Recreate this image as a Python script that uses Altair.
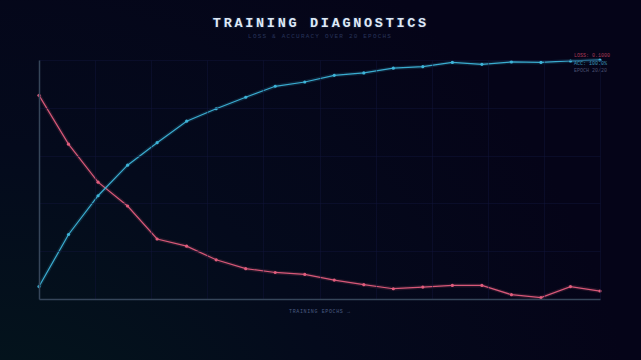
import altair as alt
import pandas as pd

epochs = list(range(1, 21))
accuracy = [52.6, 63.5, 71.6, 78.0, 82.7, 87.2, 89.8, 92.2, 94.5, 95.4,
            96.8, 97.3, 98.3, 98.6, 99.5, 99.1, 99.6, 99.5, 99.8, 100.0]
loss = [2.556, 1.944, 1.467, 1.167, 0.753, 0.663, 0.492, 0.381, 0.333, 0.309,
        0.237, 0.180, 0.129, 0.150, 0.171, 0.171, 0.054, 0.018, 0.156, 0.100]

title_text = "TRAINING DIAGNOSTICS"
subtitle_text = "LOSS & ACCURACY OVER 20 EPOCHS"
x_title = "TRAINING EPOCHS \u2192"
legend_lines = ["LOSS: 0.1000", "ACC: 100.0%", "EPOCH 20/20"]

LOSS_MAX = 3.0
ACC_MIN, ACC_MAX = 50, 100


def spaced(s, sp="\u2009"):
    return sp.join(s)


df = pd.DataFrame({"epoch": epochs, "acc": accuracy, "loss": loss})

W, H = 561, 239
ACC_C = "#3db3d8"
LOSS_C = "#e05c7c"
MONO = "Liberation Mono"

xgrid = [1 + 1.9 * i for i in range(11)]
ygrid = [50, 60, 70, 80, 90, 100]
x_scale = alt.Scale(domain=[1, 20], nice=False, zero=False)
y_scale = alt.Scale(domain=[ACC_MIN, ACC_MAX], nice=False, zero=False)

x_axis = alt.Axis(values=xgrid, grid=True, gridColor="#10163a", gridWidth=0.8, gridOpacity=0.6,
                  labels=False, ticks=False, domain=True, domainColor="#36465a",
                  domainWidth=1.5, title=None, zindex=1)
y_axis = alt.Axis(values=ygrid, grid=True, gridColor="#10163a", gridWidth=0.8, gridOpacity=0.6,
                  labels=False, ticks=False, domain=True, domainColor="#36465a",
                  domainWidth=1.5, title=None, zindex=1)

base = alt.Chart(df).transform_calculate(
    loss_y=f"{ACC_MIN} + datum.loss / {LOSS_MAX} * {ACC_MAX - ACC_MIN}"
)

one = alt.Chart(pd.DataFrame({"a": [0]}))

bg = one.mark_rect(
    clip=False,
    fill=alt.Gradient(
        gradient="radial",
        x1=0, y1=1, x2=0, y2=1, r1=0, r2=1.0,
        stops=[alt.GradientStop(offset=0, color="#03191c"),
               alt.GradientStop(offset=0.55, color="#040a1c"),
               alt.GradientStop(offset=1, color="#050418")],
    ),
).encode(x=alt.value(-39), x2=alt.value(602), y=alt.value(-60), y2=alt.value(300))


def series(field, color):
    enc = dict(x=alt.X("epoch:Q", scale=x_scale, axis=x_axis),
               y=alt.Y(f"{field}:Q", scale=y_scale, axis=y_axis))
    glow = base.mark_line(color=color, strokeWidth=4, opacity=0.15).encode(**enc)
    line = base.mark_line(color=color, strokeWidth=1.2, opacity=0.95).encode(**enc)
    pts = base.mark_circle(color=color, size=10, opacity=1).encode(**enc)
    return [glow, line, pts]


loss_layers = series("loss_y", LOSS_C)
acc_layers = series("acc", ACC_C)

title_glow = one.mark_text(text=spaced(title_text), font=MONO, fontSize=13.5, fontWeight="bold",
                           color="#6a9ad8", opacity=0.35, align="center", baseline="middle",
                           stroke="#6a9ad8", strokeWidth=2.5, strokeOpacity=0.25).encode(
    x=alt.value(W / 2), y=alt.value(-37))
title = one.mark_text(text=spaced(title_text), font=MONO, fontSize=13.5, fontWeight="bold",
                      color="#dfe8f5", align="center", baseline="middle").encode(
    x=alt.value(W / 2), y=alt.value(-37))
subtitle = one.mark_text(text=spaced(subtitle_text), font=MONO, fontSize=6, color="#28345a",
                         align="center", baseline="middle").encode(
    x=alt.value(W / 2), y=alt.value(-24))
xlab = one.mark_text(text=spaced(x_title, "\u200a\u200a"), font=MONO, fontSize=5, color="#4a5a80",
                     align="center", baseline="middle").encode(
    x=alt.value(W / 2), y=alt.value(H + 12))

leg_colors = ["#a83a55", "#3a94b5", "#4a4f70"]
legend = [
    one.mark_text(text=t, font=MONO, fontSize=5, color=c, align="left",
                  baseline="middle").encode(
        x=alt.value(535), y=alt.value(-5 + 7.5 * i))
    for i, (t, c) in enumerate(zip(legend_lines, leg_colors))
]

chart = alt.layer(bg, *loss_layers, *acc_layers, title_glow, title, subtitle, xlab, *legend).properties(
    width=W, height=H,
    background="#050418",
    padding={"left": 39, "top": 60, "right": 41, "bottom": 61},
    autosize=alt.AutoSizeParams(type="none"),
).configure_view(stroke=None)

chart.save("out.html", embed_options={"renderer": "svg", "actions": False})
